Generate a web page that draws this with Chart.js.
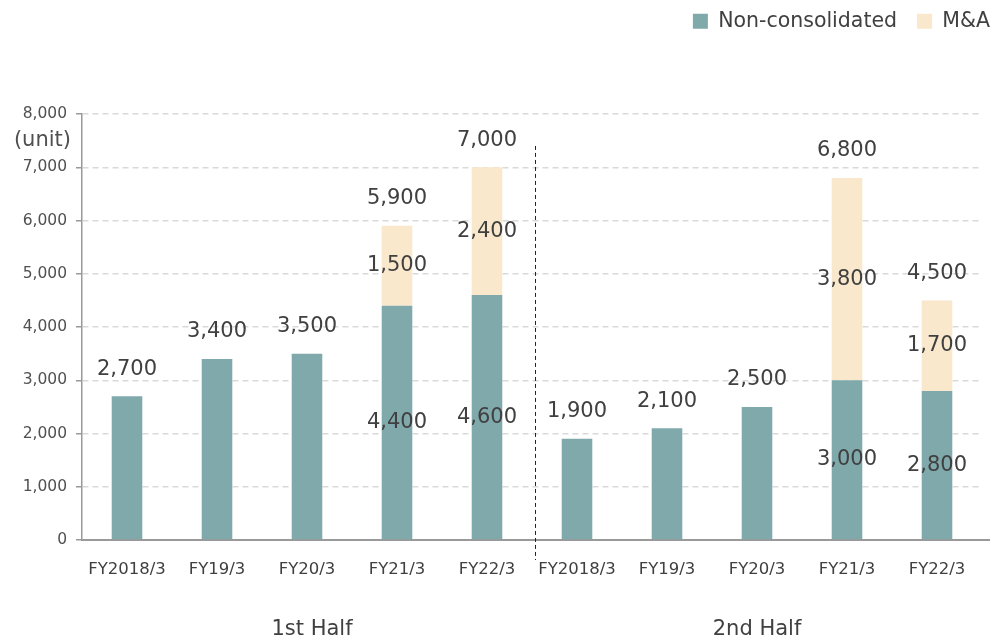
<!DOCTYPE html>
<html>
<head>
<meta charset="utf-8">
<script src="https://cdn.jsdelivr.net/npm/chart.js@4/dist/chart.umd.min.js"></script>
<style>
  html, body { margin: 0; padding: 0; background: #fff; }
  #wrap { width: 992px; height: 639px; }
</style>
</head>
<body>
<div id="wrap"><canvas id="units"></canvas></div>
<script>
// 販売台数（上期・下期）
const categories = ['FY2018/3', 'FY19/3', 'FY20/3', 'FY21/3', 'FY22/3',
                    'FY2018/3', 'FY19/3', 'FY20/3', 'FY21/3', 'FY22/3'];
const nonConsolidated = [2700, 3400, 3500, 4400, 4600, 1900, 2100, 2500, 3000, 2800];
const mna = [null, null, null, 1500, 2400, null, null, null, 3800, 1700];
const halves = ['1st Half', '2nd Half'];
const unitLabel = '(unit)';

const FONT = '"DejaVu Sans", Verdana, sans-serif';
const TEAL = '#80a9ac';
const BEIGE = '#f9e8cb';

const fmt = v => v.toLocaleString('en-US');

// 凡例の下に余白を足してプロット領域の上端を下げる
const legendSpace = {
  id: 'legendSpace',
  beforeInit(chart) {
    const fit = chart.legend.fit;
    chart.legend.fit = function () {
      fit.bind(chart.legend)();
      this.height = 114;
    };
  },
  afterLayout(chart) {
    // 凡例だけ右端・上端に寄せる
    chart.legend.right += 28;
    chart.legend.top -= 9;
  }
};

// 値ラベル：積み上げ部分は中央、合計は棒の上
const valueLabels = {
  id: 'valueLabels',
  afterDatasetsDraw(chart) {
    const ctx = chart.ctx;
    const m0 = chart.getDatasetMeta(0);
    const m1 = chart.getDatasetMeta(1);
    ctx.save();
    ctx.font = '21px ' + FONT;
    ctx.fillStyle = '#404040';
    ctx.textAlign = 'center';
    ctx.textBaseline = 'middle';
    categories.forEach((c, i) => {
      const b0 = m0.data[i];
      const total = nonConsolidated[i] + (mna[i] || 0);
      if (mna[i]) {
        const b1 = m1.data[i];
        ctx.fillText(fmt(nonConsolidated[i]), b0.x, (b0.y + b0.base) / 2);
        ctx.fillText(fmt(mna[i]), b1.x, (b1.y + b1.base) / 2);
        ctx.fillText(fmt(total), b1.x, b1.y - 27);
      } else {
        ctx.fillText(fmt(total), b0.x, b0.y - 27);
      }
    });
    ctx.restore();
  }
};

// 上期・下期の区切り線と見出し、単位
const halfDivider = {
  id: 'halfDivider',
  afterDraw(chart) {
    const ctx = chart.ctx;
    const x = chart.scales.x;
    const y = chart.scales.y;
    const area = chart.chartArea;
    const half = categories.length / 2;
    const divX = Math.round((x.getPixelForValue(half - 1) + x.getPixelForValue(half)) / 2) + 3;

    ctx.save();
    // 横軸を右端まで延ばす
    ctx.strokeStyle = '#999';
    ctx.lineWidth = 2;
    ctx.beginPath();
    ctx.moveTo(area.right - 1, Math.round(area.bottom));
    ctx.lineTo(area.right + 8, Math.round(area.bottom));
    ctx.stroke();

    ctx.strokeStyle = '#222';
    ctx.lineWidth = 1;
    ctx.setLineDash([4, 3]);
    ctx.beginPath();
    ctx.moveTo(divX + 0.5, y.getPixelForValue(7400));
    ctx.lineTo(divX + 0.5, area.bottom + 20);
    ctx.stroke();
    ctx.setLineDash([]);

    ctx.font = '21px ' + FONT;
    ctx.fillStyle = '#404040';
    ctx.textAlign = 'center';
    ctx.textBaseline = 'middle';
    halves.forEach((h, k) => {
      const a = x.getPixelForValue(k * half);
      const b = x.getPixelForValue(k * half + half - 1);
      ctx.fillText(h, (a + b) / 2 + (k === 0 ? 5 : 0), area.bottom + 90);
    });

    ctx.textAlign = 'right';
    ctx.fillStyle = '#505050';
    ctx.fillText(unitLabel, area.left - 11, y.getPixelForValue(7500));
    ctx.restore();
  }
};

new Chart(document.getElementById('units'), {
  type: 'bar',
  data: {
    labels: categories,
    datasets: [
      {
        label: 'Non-consolidated',
        data: nonConsolidated,
        backgroundColor: TEAL,
        borderWidth: 0
      },
      {
        label: 'M&A',
        data: mna,
        backgroundColor: BEIGE,
        borderWidth: 0
      }
    ]
  },
  options: {
    responsive: true,
    maintainAspectRatio: false,
    animation: false,
    layout: { padding: { left: 0, right: 10, top: 0, bottom: 0 } },
    datasets: {
      bar: { barPercentage: 1, categoryPercentage: 0.34 }
    },
    scales: {
      x: {
        stacked: true,
        grid: { display: false },
        border: { color: '#999', width: 2 },
        ticks: {
          color: '#404040',
          font: { family: FONT, size: 16.5 },
          padding: 12,
          maxRotation: 0,
          autoSkip: false
        },
        afterFit(scale) { scale.height = 99; }
      },
      y: {
        stacked: true,
        min: 0,
        max: 8000,
        grid: {
          color: '#d9d9d9',
          lineWidth: 1.5,
          tickLength: 6,
          tickColor: '#999',
          tickWidth: 1.5,
          tickBorderDash: []
        },
        // v4 では border.dash が横グリッドの破線になる
        border: { color: '#999', width: 1.5, dash: [6, 4] },
        ticks: {
          stepSize: 1000,
          color: '#505050',
          font: { family: FONT, size: 15.5 },
          padding: 9,
          callback: v => fmt(v)
        },
        afterFit(scale) { scale.width = 82; }
      }
    },
    plugins: {
      legend: {
        position: 'top',
        align: 'end',
        labels: {
          boxWidth: 15,
          boxHeight: 15,
          padding: 20,
          color: '#404040',
          font: { family: FONT, size: 20.5 }
        }
      },
      tooltip: { enabled: false }
    }
  },
  plugins: [legendSpace, valueLabels, halfDivider]
});
</script>
</body>
</html>
